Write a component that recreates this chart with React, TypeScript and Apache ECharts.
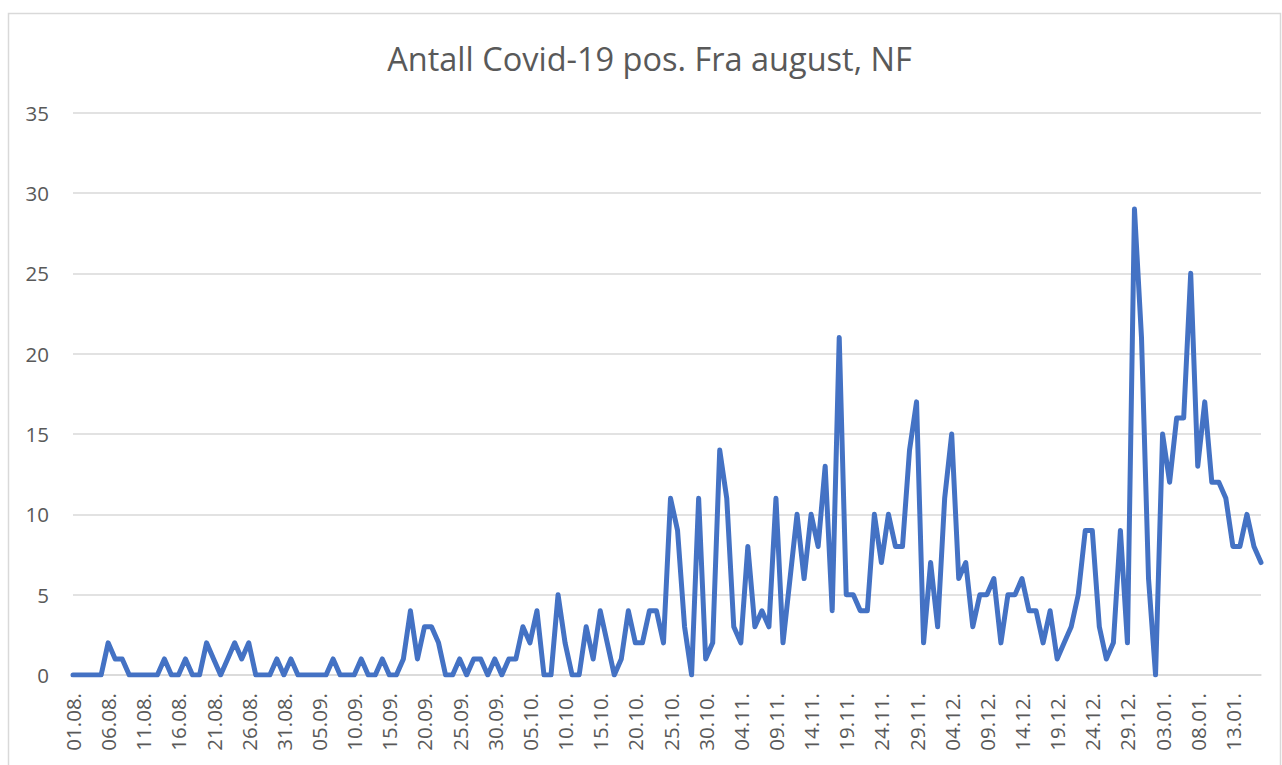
import React, { useEffect, useRef } from "react";
import * as echarts from "echarts";

// Daily new positive Covid-19 cases, 01.08 -> 17.01
const START_DATE = [2020, 8, 1];
const DAY_COUNT = 170;
const VALUES: number[] = [
  0, 0, 0, 0, 0, 2, 1, 1, 0, 0,
  0, 0, 0, 1, 0, 0, 1, 0, 0, 2,
  1, 0, 1, 2, 1, 2, 0, 0, 0, 1,
  0, 1, 0, 0, 0, 0, 0, 1, 0, 0,
  0, 1, 0, 0, 1, 0, 0, 1, 4, 1,
  3, 3, 2, 0, 0, 1, 0, 1, 1, 0,
  1, 0, 1, 1, 3, 2, 4, 0, 0, 5,
  2, 0, 0, 3, 1, 4, 2, 0, 1, 4,
  2, 2, 4, 4, 2, 11, 9, 3, 0, 11,
  1, 2, 14, 11, 3, 2, 8, 3, 4, 3,
  11, 2, 6, 10, 6, 10, 8, 13, 4, 21,
  5, 5, 4, 4, 10, 7, 10, 8, 8, 14,
  17, 2, 7, 3, 11, 15, 6, 7, 3, 5,
  5, 6, 2, 5, 5, 6, 4, 4, 2, 4,
  1, 2, 3, 5, 9, 9, 3, 1, 2, 9,
  2, 29, 21, 6, 0, 15, 12, 16, 16, 25,
  13, 17, 12, 12, 11, 8, 8, 10, 8, 7,
];
const Y_MIN = 0;
const Y_MAX = 35;
const Y_STEP = 5;
const TITLE = "Antall Covid-19 pos. Fra august, NF";

function buildCategories(): string[] {
  const out: string[] = [];
  const base = Date.UTC(START_DATE[0], START_DATE[1] - 1, START_DATE[2]);
  for (let i = 0; i < DAY_COUNT; i++) {
    const d = new Date(base + i * 86400000);
    const dd = String(d.getUTCDate()).padStart(2, "0");
    const mm = String(d.getUTCMonth() + 1).padStart(2, "0");
    out.push(`${dd}.${mm}.`);
  }
  return out;
}

const FONT = "'Open Sans', 'Noto Sans', sans-serif";
const TEXT_COLOR = "#595959";
const GRID_COLOR = "#d9d9d9";

export default function App() {
  const ref = useRef<HTMLDivElement>(null);
  useEffect(() => {
    if (!ref.current) return;
    const chart = echarts.init(ref.current, null, { renderer: "svg" });
    const categories = buildCategories();
    chart.setOption({
      animation: false,
      backgroundColor: "#ffffff",
      textStyle: { fontFamily: FONT },
      graphic: [
        {
          type: "rect",
          shape: { x: 8.5, y: 13.5, width: 1272, height: 770 },
          style: { fill: "none", stroke: GRID_COLOR, lineWidth: 1.5 },
          silent: true,
        },
        {
          type: "text",
          x: 649.5,
          y: 58,
          style: {
            text: TITLE,
            fill: TEXT_COLOR,
            font: `32.5px ${FONT}`,
            align: "center",
            verticalAlign: "middle",
          },
        },
      ],
      grid: {
        left: 73,
        right: 21,
        top: 112.7,
        bottom: 90,
        containLabel: false,
        outerBoundsMode: "none",
      },
      xAxis: {
        type: "category",
        data: categories,
        boundaryGap: false,
        axisTick: { show: false },
        axisLine: { show: true, lineStyle: { color: GRID_COLOR, width: 1.5 } },
        axisLabel: {
          interval: 4,
          rotate: 90,
          margin: 18,
          color: TEXT_COLOR,
          fontSize: 20.5,
          fontFamily: FONT,
        },
        splitLine: { show: false },
      },
      yAxis: {
        type: "value",
        min: Y_MIN,
        max: Y_MAX,
        interval: Y_STEP,
        axisLine: { show: false },
        axisTick: { show: false },
        axisLabel: {
          margin: 24,
          color: TEXT_COLOR,
          fontSize: 20.5,
          fontFamily: FONT,
        },
        splitLine: { lineStyle: { color: GRID_COLOR, width: 1.5 } },
      },
      series: [
        {
          type: "line",
          data: VALUES,
          showSymbol: false,
          symbol: "none",
          lineStyle: { color: "#4472C4", width: 5, cap: "round", join: "round" },
          itemStyle: { color: "#4472C4" },
        },
      ],
    });
    return () => chart.dispose();
  }, []);
  return (
    <div
      ref={ref}
      style={{ position: "fixed", left: 0, top: 0, width: 1282, height: 765, background: "#fff" }}
    />
  );
}
